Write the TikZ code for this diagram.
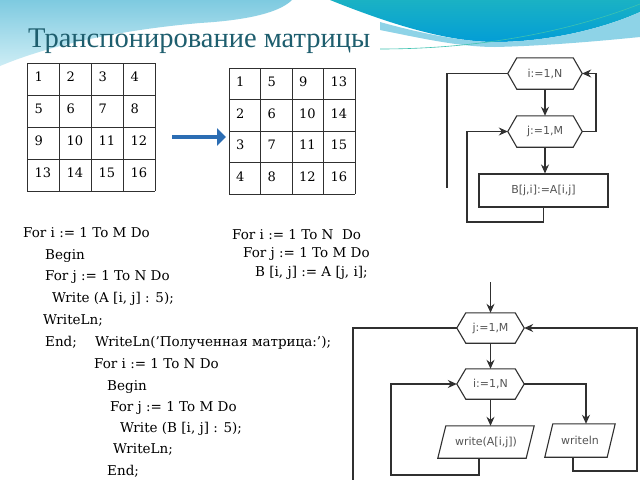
\documentclass[tikz,border=0pt]{standalone}
\usepackage{fontspec}
\setmainfont{DejaVu Serif}
\newfontfamily\titlefont{Liberation Serif}
\newfontfamily\flfont{DejaVu Sans}
\usetikzlibrary{arrows.meta}
\definecolor{lineC}{HTML}{303030}
\definecolor{titleC}{HTML}{1E5E6E}
\definecolor{arrowC}{HTML}{2B6DB3}
\definecolor{skyA}{HTML}{7ECAE0}
\definecolor{skyB}{HTML}{CDEDF5}
\definecolor{deepA}{HTML}{1AB2C4}
\definecolor{deepB}{HTML}{039DD6}
\definecolor{bandC}{HTML}{8ED3E7}
\definecolor{thinC}{HTML}{3DC2B0}
\definecolor{flText}{HTML}{555555}
\tikzset{
  line/.style={draw=lineC, line width=1.1pt},
  arr/.style={line, -{Stealth[length=9pt,width=8pt,inset=3pt]}},
  hexnode/.style={draw=none, minimum width=74pt, minimum height=31pt, inner sep=0pt, font=\flfont\fontsize{11}{13}\selectfont, text=flText},
  paranode/.style={draw=none, minimum height=32pt, inner sep=0pt, font=\flfont\fontsize{11}{13}\selectfont, text=flText},
  rectnode/.style={line, minimum width=129pt, minimum height=33pt, inner sep=0pt, font=\flfont\fontsize{11}{13}\selectfont, text=flText},
  code/.style={anchor=base west, inner sep=0pt, font=\fontsize{13.5}{16}\selectfont, text=black},
  num/.style={anchor=west, inner sep=0pt, font=\fontsize{13}{15}\selectfont, text=black},
  grid/.style={draw=lineC, line width=0.9pt}
}
\begin{document}
\begin{tikzpicture}[x=1pt,y=-1pt]
\useasboundingbox (0,0) rectangle (640,480);
\fill[white] (0,0) rectangle (640,480);
% header decoration
\shade[top color=skyA, bottom color=skyB] (0,0) -- (292,0) .. controls (280,12) and (250,20) .. (200,23) .. controls (120,30) and (50,45) .. (0,66) -- cycle;
\shade[top color=deepA, bottom color=deepB] (330,0) -- (640,0) -- (640,12) .. controls (600,30) and (545,42) .. (495,42) .. controls (445,42) and (385,22) .. (330,0) -- cycle;
\fill[bandC] (380,22) .. controls (430,36) and (470,42) .. (495,42) .. controls (545,42) and (600,30) .. (640,12) -- (640,37) .. controls (590,42) and (540,46) .. (495,47) .. controls (460,47) and (420,38) .. (380,30) -- cycle;
\draw[thinC, line width=0.6pt] (380,49) .. controls (470,49) and (560,35) .. (640,4);
% title
\node[anchor=base west, inner sep=0pt, text=titleC, font=\titlefont\fontsize{28.5}{30}\selectfont] (title) at (28,47) {Транспонирование матрицы};
% left matrix
\foreach \i in {0,...,4} {
  \draw[grid] (27,63+32*\i) -- (155,63+32*\i);
  \draw[grid] (27+32*\i,63) -- (27+32*\i,191);
}
\foreach \v [count=\k from 0] in {1,2,3,4,5,6,7,8,9,10,11,12,13,14,15,16} {
  \pgfmathtruncatemacro\r{int(\k/4)}
  \pgfmathtruncatemacro\c{mod(\k,4)}
  \node[num] (a\v) at (34.5+32*\c, 77+32*\r) {\v};
}
% right matrix
\foreach \i in {0,...,4} {
  \draw[grid] (229,68+31.5*\i) -- (355,68+31.5*\i);
  \draw[grid] (229+31.5*\i,68) -- (229+31.5*\i,194);
}
\foreach \v [count=\k from 0] in {1,5,9,13,2,6,10,14,3,7,11,15,4,8,12,16} {
  \pgfmathtruncatemacro\r{int(\k/4)}
  \pgfmathtruncatemacro\c{mod(\k,4)}
  \node[num] (b\v) at (236+31.5*\c, 82+31.5*\r) {\v};
}
% blue arrow
\coordinate (arS) at (172,137);
\coordinate (arE) at (226,137);
\draw[arrowC, line width=4pt, -{Triangle[length=9pt,width=17pt]}] (arS) -- (arE);
% code left
\node[code] (l1) at (23,237) {For i := 1 To M Do};
\node[code] (l2) at (45,259) {Begin};
\node[code] (l3) at (45,280) {For j := 1 To N Do};
\node[code] (l4) at (52,302) {Write (A [i, j] : 5);};
\node[code] (l5) at (43,324) {WriteLn;};
\node[code] (l6) at (45,346) {End;};
\node[code] (m1) at (95,346) {WriteLn('Полученная матрица:');};
\node[code] (m2) at (94,368) {For i := 1 To N Do};
\node[code] (m3) at (107,390) {Begin};
\node[code] (m4) at (110,411) {For j := 1 To M Do};
\node[code] (m5) at (120,432) {Write (B [i, j] : 5);};
\node[code] (m6) at (113,453) {WriteLn;};
\node[code] (m7) at (107,475) {End;};
% code middle
\node[code] (r1) at (232,239) {For i := 1 To N \ Do};
\node[code] (r2) at (243,257) {For j := 1 To M Do};
\node[code] (r3) at (255,276) {B [i, j] := A [j, i];};
% top flowchart
\node[hexnode] (i1) at (545,73.5) {i:=1,N};
\node[hexnode] (j1) at (545,131.5) {j:=1,M};
\node[rectnode] (bb) at (543.5,190.5) {B[j,i]:=A[i,j]};
% bottom flowchart
\node[hexnode, minimum width=67pt, minimum height=30pt] (j2) at (490.5,328) {j:=1,M};
\node[hexnode, minimum width=67pt, minimum height=30pt] (i2) at (490.5,384) {i:=1,N};
\node[paranode, minimum width=96pt] (w2) at (486,442) {write(A[i,j])};
\node[paranode, minimum width=70pt, minimum height=33pt] (n2) at (580,440.5) {writeln};
\foreach \n in {i1,j1,j2,i2} {
  \draw[line] (\n.west) -- ([xshift=9pt]\n.north west) -- ([xshift=-9pt]\n.north east) -- (\n.east) -- ([xshift=-9pt]\n.south east) -- ([xshift=9pt]\n.south west) -- cycle;
}
\foreach \n in {w2,n2} {
  \draw[line] ([xshift=8pt]\n.north west) -- (\n.north east) -- ([xshift=-8pt]\n.south east) -- (\n.south west) -- cycle;
}
% top connectors
\coordinate (c1) at (467,222);
\coordinate (c2) at (596,73.5);
\coordinate (c3) at (447,188);
\draw[arr] (i1.south) -- (j1.north);
\draw[arr] (j1.south) -- (bb.north -| j1.south);
\draw[arr] (bb.south) |- (c1) |- (j1.west);
\draw[arr] (j1.east) -| (c2) -- (i1.east);
\draw[line] (i1.west) -| (c3);
% bottom connectors
\coordinate (e2) at (490.5,282);
\coordinate (c4) at (391,475);
\coordinate (c5) at (637,471);
\coordinate (c6) at (353,480);
\coordinate (c7) at (586,384);
\draw[arr] (e2) -- (j2.north);
\draw[arr] (j2.south) -- (i2.north);
\draw[arr] (i2.south) -- (i2.south |- w2.north);
\draw[arr] (i2.east) -- (c7) -- (c7 |- n2.north);
\draw[arr] ([xshift=-7pt]w2.south) |- (c4) |- (i2.west);
\draw[arr] ([xshift=-7pt]n2.south) |- (c5) |- (j2.east);
\draw[line] (j2.west) -| (c6);
\end{tikzpicture}
\end{document}
